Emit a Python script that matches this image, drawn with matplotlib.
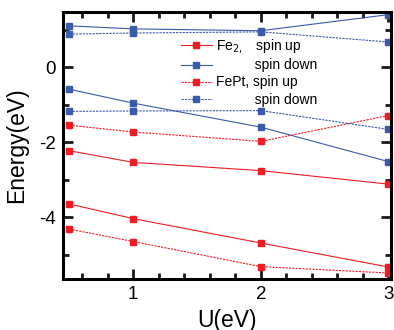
import matplotlib
matplotlib.use("Agg")
import matplotlib.pyplot as plt

plt.rcParams['font.family'] = ['Liberation Sans', 'DejaVu Sans']

U = [0.5, 1, 2, 3]

fe2_up_a = [-2.23, -2.54, -2.76, -3.12]
fe2_up_b = [-3.65, -4.04, -4.69, -5.33]
fe2_dn_a = [1.10, 1.02, 0.97, 1.40]
fe2_dn_b = [-0.59, -0.96, -1.60, -2.52]
fept_up_a = [-1.55, -1.73, -1.98, -1.29]
fept_up_b = [-4.32, -4.65, -5.32, -5.49]
fept_dn_a = [0.88, 0.91, 0.94, 0.67]
fept_dn_b = [-1.18, -1.17, -1.16, -1.66]

labels = ["Fe$_{2,}$   spin up", "          spin down",
          "FePt, spin up", "          spin down"]

red = "#ee1c24"
blue = "#3a5aaa"

fig = plt.figure(figsize=(3.94, 3.30), dpi=100)
ax = fig.add_axes([63/394, 51/330, 328/394, 267/330])

ms = 4.6
lw = 0.8
kw = dict(marker='s', markersize=ms, linewidth=lw, clip_on=False)

l1, = ax.plot(U, fe2_up_a, color=red, linestyle='-', **kw)
ax.plot(U, fe2_up_b, color=red, linestyle='-', **kw)
l2, = ax.plot(U, fe2_dn_a, color=blue, linestyle='-', **kw)
ax.plot(U, fe2_dn_b, color=blue, linestyle='-', **kw)
l3, = ax.plot(U, fept_up_a, color=red, linestyle=(0, (2, 1)), **kw)
ax.plot(U, fept_up_b, color=red, linestyle=(0, (2, 1)), **kw)
l4, = ax.plot(U, fept_dn_a, color=blue, linestyle=(0, (2, 1)), **kw)
ax.plot(U, fept_dn_b, color=blue, linestyle=(0, (2, 1)), **kw)

ax.set_xlim(0.45, 3.02)
ax.set_ylim(-5.65, 1.47)
ax.set_xticks([1, 2, 3])
ax.set_xticks([0.6, 0.8, 1.2, 1.4, 1.6, 1.8, 2.2, 2.4, 2.6, 2.8], minor=True)
ax.set_yticks([-4, -2, 0])
ax.set_yticks([-5, -3, -1, 1], minor=True)
ax.set_yticklabels(['-4', '-2', '0'])

for s in ax.spines.values():
    s.set_linewidth(2.2)
ax.tick_params(which='both', direction='in', top=True, right=True,
               labelsize=13.5, width=2.0, color='#1a1a1a')
ax.tick_params(which='major', length=7, pad=5)
ax.tick_params(which='minor', length=4)

ax.set_xlabel("U(eV)", fontsize=16.5, labelpad=4)
ax.set_ylabel("Energy(eV)", fontsize=16.5, labelpad=8)

leg = ax.legend([l1, l2, l3, l4], labels, loc='upper left',
                bbox_to_anchor=(0.36, 0.905), frameon=False, fontsize=10,
                handlelength=2.2, handletextpad=0.3, labelspacing=0.22,
                borderpad=0, borderaxespad=0)

fig.savefig("out.png", dpi=100)
